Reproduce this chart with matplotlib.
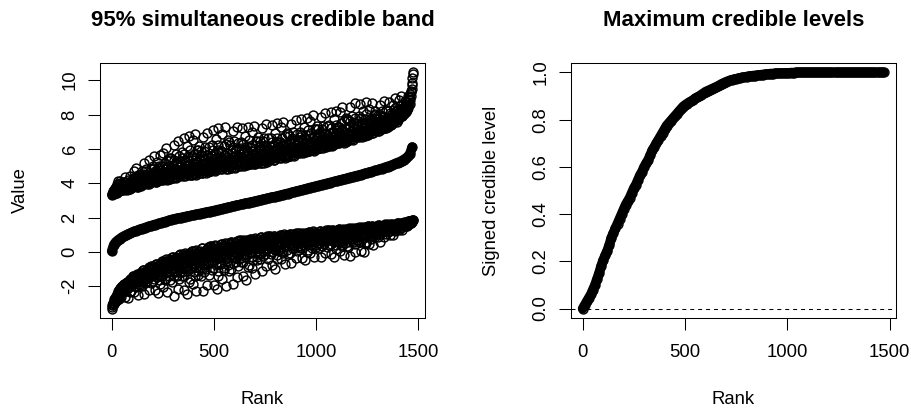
import matplotlib
matplotlib.use("Agg")
import matplotlib.pyplot as plt
import numpy as np

plt.rcParams["font.family"] = ["Liberation Sans", "DejaVu Sans"]

# rank of each unit: the band limits are read at two interleaved rank grids,
# the smooth curves every 10th rank
rank_a = np.arange(1, 1477, 3)
rank_b = np.arange(2, 1477, 3)
rank10 = np.arange(1, 1477, 10)

# upper limit of the 95% simultaneous band (ranks 1, 4, 7, ...)
upper_a = [
    3.32, 3.4, 3.55, 3.38, 3.62, 3.45, 3.8, 3.5, 3.95, 3.44, 4.1, 3.6, 3.52, 3.85, 4.15, 3.58,
    3.62, 3.85, 3.70, 4.09, 3.66, 4.36, 3.78, 3.93, 3.62, 3.74, 4.21, 3.82, 3.66, 4.01, 4.4, 3.70,
    3.95, 3.78, 4.28, 3.89, 4.73, 4.06, 3.84, 4.17, 4.9, 4.0, 3.78, 4.45, 3.89, 4.12, 4.56, 3.84,
    4.0, 4.7, 4.21, 3.93, 4.42, 5.19, 4.07, 4.28, 4.84, 3.93, 4.14, 4.56, 5.33, 4.07, 4.35, 4.21,
    4.06, 4.54, 4.22, 5.02, 4.14, 5.58, 4.38, 4.7, 4.06, 4.3, 5.26, 4.46, 4.14, 4.86, 5.66, 4.22,
    4.46, 4.18, 5.01, 4.37, 5.75, 4.64, 4.27, 4.83, 6.03, 4.55, 4.18, 5.29, 4.37, 4.74, 5.48, 4.27,
    4.41, 5.47, 4.73, 4.3, 5.05, 6.22, 4.51, 4.83, 5.68, 4.3, 4.62, 5.26, 6.43, 4.51, 4.94, 4.73,
    4.4, 5.1, 4.63, 5.8, 4.52, 6.61, 4.87, 5.33, 4.4, 4.75, 6.15, 4.98, 4.52, 5.57, 6.73, 4.63,
    4.85, 4.5, 5.56, 4.74, 6.51, 5.09, 4.62, 5.33, 6.86, 4.97, 4.5, 5.92, 4.74, 5.21, 6.15, 4.62,
    4.71, 5.88, 5.06, 4.59, 5.41, 6.71, 4.83, 5.18, 6.12, 4.59, 4.94, 5.65, 6.94, 4.83, 5.3, 5.06,
    4.69, 5.44, 4.94, 6.2, 4.82, 7.07, 5.19, 5.69, 4.69, 5.07, 6.57, 5.32, 4.82, 5.95, 7.2, 4.94,
    5.17, 4.8, 5.9, 5.05, 6.88, 5.41, 4.92, 5.66, 7.25, 5.29, 4.8, 6.27, 5.05, 5.54, 6.52, 4.92,
    5.02, 6.21, 5.38, 4.9, 5.73, 7.04, 5.14, 5.5, 6.45, 4.9, 5.26, 5.97, 7.28, 5.14, 5.61, 5.38,
    5.0, 5.69, 5.23, 6.38, 5.12, 7.19, 5.46, 5.92, 5.0, 5.35, 6.73, 5.58, 5.12, 6.15, 7.3, 5.23,
    5.43, 5.09, 6.11, 5.32, 7.01, 5.66, 5.2, 5.88, 7.35, 5.54, 5.09, 6.45, 5.32, 5.77, 6.67, 5.2,
    5.31, 6.43, 5.65, 5.2, 5.98, 7.22, 5.42, 5.76, 6.66, 5.2, 5.54, 6.21, 7.44, 5.42, 5.87, 5.65,
    5.34, 5.99, 5.56, 6.63, 5.45, 7.38, 5.77, 6.2, 5.34, 5.66, 6.95, 5.88, 5.45, 6.42, 7.49, 5.56,
    5.79, 5.47, 6.42, 5.68, 7.26, 6.0, 5.58, 6.21, 7.58, 5.89, 5.47, 6.74, 5.68, 6.1, 6.95, 5.58,
    5.71, 6.75, 6.02, 5.61, 6.33, 7.47, 5.82, 6.13, 6.96, 5.61, 5.92, 6.54, 7.68, 5.82, 6.23, 6.02,
    5.76, 6.38, 5.97, 6.99, 5.86, 7.71, 6.17, 6.58, 5.76, 6.07, 7.3, 6.27, 5.86, 6.79, 7.81, 5.97,
    6.21, 5.9, 6.82, 6.11, 7.64, 6.41, 6.0, 6.62, 7.95, 6.31, 5.9, 7.13, 6.11, 6.52, 7.34, 6.0,
    6.15, 7.16, 6.45, 6.05, 6.75, 7.86, 6.25, 6.55, 7.36, 6.05, 6.35, 6.95, 8.06, 6.25, 6.65, 6.45,
    6.19, 6.8, 6.39, 7.41, 6.29, 8.12, 6.6, 7.0, 6.19, 6.49, 7.71, 6.7, 6.29, 7.21, 8.22, 6.39,
    6.66, 6.35, 7.29, 6.56, 8.13, 6.87, 6.45, 7.08, 8.44, 6.77, 6.35, 7.6, 6.56, 6.98, 7.81, 6.45,
    6.62, 7.7, 6.94, 6.51, 7.27, 8.46, 6.73, 7.05, 7.92, 6.51, 6.84, 7.49, 8.68, 6.73, 7.16, 6.94,
    6.7, 7.31, 6.9, 7.92, 6.8, 8.63, 7.11, 7.51, 6.7, 7.0, 8.22, 7.21, 6.8, 7.72, 8.73, 6.9,
    7.06, 6.8, 7.62, 7.01, 8.35, 7.31, 6.96, 7.5, 8.68, 7.27, 6.92, 8.0, 7.13, 7.49, 8.22, 7.08,
    7.07, 7.9, 7.35, 7.04, 7.62, 8.55, 7.24, 7.51, 8.18, 7.13, 7.39, 7.9, 8.81, 7.35, 7.69, 7.55,
    7.24, 7.7, 7.43, 8.18, 7.39, 8.75, 7.66, 7.98, 7.41, 7.65, 8.55, 7.84, 7.56, 8.24, 8.98, 7.69,
    7.77, 7.59, 8.25, 7.8, 8.84, 8.06, 7.83, 8.24, 9.07, 8.11, 7.9, 8.63, 8.08, 8.33, 8.78, 8.12,
    8.12, 8.7, 8.25, 9.05, 8.4, 8.9, 8.6, 9.2, 9.05, 9.5, 9.85, 10.45,
]

# upper limit (ranks 2, 5, 8, ...)
upper_b = [
    3.36, 3.5, 3.42, 3.58, 3.47, 3.7, 3.52, 3.65, 3.48, 3.88, 3.55, 3.75, 3.6, 4.0, 3.62, 3.9,
    3.85, 3.70, 3.97, 3.62, 3.79, 3.68, 4.05, 3.74, 3.89, 3.66, 3.82, 3.71, 3.93, 3.64, 3.78, 4.13,
    3.84, 4.0, 3.78, 4.17, 3.89, 4.34, 3.95, 4.06, 3.8, 4.23, 3.87, 4.12, 3.91, 4.45, 3.98, 4.28,
    4.35, 4.07, 4.56, 3.93, 4.24, 4.04, 4.7, 4.14, 4.42, 4.0, 4.28, 4.1, 4.49, 3.96, 4.21, 4.84,
    4.14, 4.38, 4.06, 4.62, 4.22, 4.86, 4.3, 4.46, 4.09, 4.7, 4.19, 4.54, 4.25, 5.02, 4.35, 4.78,
    4.74, 4.37, 5.01, 4.18, 4.59, 4.33, 5.2, 4.46, 4.83, 4.27, 4.64, 4.4, 4.92, 4.22, 4.55, 5.38,
    4.41, 4.73, 4.3, 5.05, 4.51, 5.37, 4.62, 4.83, 4.34, 5.15, 4.47, 4.94, 4.56, 5.58, 4.68, 5.26,
    5.1, 4.63, 5.45, 4.4, 4.91, 4.59, 5.68, 4.75, 5.22, 4.52, 4.98, 4.68, 5.33, 4.45, 4.87, 5.91,
    4.62, 4.97, 4.5, 5.33, 4.74, 5.68, 4.85, 5.09, 4.55, 5.44, 4.69, 5.21, 4.78, 5.92, 4.92, 5.56,
    5.3, 4.83, 5.65, 4.59, 5.11, 4.78, 5.88, 4.94, 5.41, 4.71, 5.18, 4.87, 5.53, 4.64, 5.06, 6.12,
    4.82, 5.19, 4.69, 5.57, 4.94, 5.95, 5.07, 5.32, 4.74, 5.69, 4.89, 5.44, 4.99, 6.2, 5.14, 5.82,
    5.54, 5.05, 5.9, 4.8, 5.34, 5.0, 6.15, 5.17, 5.66, 4.92, 5.41, 5.09, 5.78, 4.85, 5.29, 6.39,
    5.02, 5.38, 4.9, 5.73, 5.14, 6.09, 5.26, 5.5, 4.95, 5.85, 5.09, 5.61, 5.19, 6.33, 5.33, 5.97,
    5.69, 5.23, 6.04, 5.0, 5.51, 5.18, 6.27, 5.35, 5.81, 5.12, 5.58, 5.28, 5.92, 5.05, 5.46, 6.5,
    5.2, 5.54, 5.09, 5.88, 5.32, 6.22, 5.43, 5.66, 5.14, 5.99, 5.27, 5.77, 5.36, 6.45, 5.5, 6.11,
    5.87, 5.42, 6.21, 5.2, 5.69, 5.38, 6.43, 5.54, 5.98, 5.31, 5.76, 5.47, 6.1, 5.24, 5.65, 6.66,
    5.45, 5.77, 5.34, 6.09, 5.56, 6.42, 5.66, 5.88, 5.38, 6.2, 5.51, 5.99, 5.6, 6.63, 5.73, 6.31,
    6.1, 5.68, 6.42, 5.47, 5.93, 5.64, 6.63, 5.79, 6.21, 5.58, 6.0, 5.72, 6.31, 5.51, 5.89, 6.84,
    5.71, 6.02, 5.61, 6.33, 5.82, 6.65, 5.92, 6.13, 5.65, 6.44, 5.78, 6.23, 5.86, 6.85, 5.98, 6.54,
    6.38, 5.97, 6.68, 5.76, 6.21, 5.92, 6.89, 6.07, 6.48, 5.86, 6.27, 6.01, 6.58, 5.8, 6.17, 7.09,
    6.0, 6.31, 5.9, 6.62, 6.11, 6.93, 6.21, 6.41, 5.94, 6.72, 6.06, 6.52, 6.15, 7.13, 6.27, 6.82,
    6.65, 6.25, 6.95, 6.05, 6.49, 6.21, 7.16, 6.35, 6.75, 6.15, 6.55, 6.29, 6.85, 6.09, 6.45, 7.36,
    6.29, 6.6, 6.19, 6.9, 6.39, 7.21, 6.49, 6.7, 6.23, 7.0, 6.35, 6.8, 6.43, 7.41, 6.56, 7.1,
    6.98, 6.56, 7.29, 6.35, 6.81, 6.52, 7.5, 6.66, 7.08, 6.45, 6.87, 6.6, 7.19, 6.39, 6.77, 7.71,
    6.62, 6.94, 6.51, 7.27, 6.73, 7.6, 6.84, 7.05, 6.55, 7.38, 6.68, 7.16, 6.77, 7.81, 6.9, 7.49,
    7.31, 6.9, 7.61, 6.7, 7.15, 6.86, 7.82, 7.0, 7.41, 6.8, 7.21, 6.94, 7.51, 6.74, 7.11, 8.02,
    6.88, 7.16, 6.82, 7.45, 7.02, 7.75, 7.14, 7.33, 6.94, 7.62, 7.06, 7.46, 7.16, 8.03, 7.29, 7.79,
    7.48, 7.16, 7.76, 7.04, 7.41, 7.2, 7.98, 7.35, 7.68, 7.21, 7.55, 7.36, 7.83, 7.22, 7.53, 8.29,
    7.31, 7.55, 7.28, 7.81, 7.47, 8.09, 7.59, 7.76, 7.44, 8.02, 7.57, 7.91, 7.67, 8.39, 7.79, 8.21,
    7.99, 7.73, 8.25, 7.66, 7.99, 7.84, 8.48, 7.99, 8.26, 7.93, 8.19, 8.08, 8.41, 8.02, 8.25, 8.72,
    8.3, 8.5, 8.45, 8.75, 8.6, 9.0, 8.85, 9.3, 9.35, 9.7, 10.1, 10.35,
]

# lower limit of the band (ranks 1, 4, 7, ...)
lower_a = [
    -3.3, -3.12, -2.95, -3.05, -2.75, -2.9, -2.6, -2.82, -2.45, -2.7, -2.3, -2.75, -2.2, -2.5, -2.1, -2.65,
    -1.97, -2.13, -1.99, -2.33, -1.89, -2.0, -2.61, -2.09, -1.73, -1.85, -2.13, -2.7, -1.72, -1.92, -2.36, -1.58,
    -1.58, -1.89, -1.43, -1.64, -2.33, -1.43, -1.71, -2.07, -1.5, -1.29, -2.5, -1.58, -1.36, -1.89, -1.46, -1.66,
    -1.2, -1.31, -1.98, -1.08, -1.48, -2.46, -1.16, -1.58, -1.28, -1.04, -1.71, -1.31, -2.23, -0.9, -1.12, -1.42,
    -0.84, -1.22, -0.97, -1.68, -0.85, -1.09, -2.23, -1.31, -0.7, -0.95, -1.45, -2.4, -0.82, -1.15, -1.86, -0.68,
    -0.76, -1.32, -0.54, -0.91, -2.06, -0.6, -1.08, -1.66, -0.76, -0.44, -2.35, -0.93, -0.61, -1.42, -0.79, -1.09,
    -0.45, -0.66, -1.76, -0.3, -0.97, -2.54, -0.5, -1.17, -0.7, -0.35, -1.38, -0.79, -2.19, -0.18, -0.53, -0.99,
    -0.15, -0.73, -0.37, -1.42, -0.23, -0.58, -2.24, -0.91, -0.06, -0.41, -1.14, -2.48, -0.27, -0.75, -1.74, -0.11,
    -0.21, -0.93, 0.05, -0.43, -1.89, -0.04, -0.65, -1.39, -0.26, 0.12, -2.25, -0.49, -0.1, -1.11, -0.34, -0.72,
    0.05, -0.19, -1.42, 0.2, -0.54, -2.29, -0.03, -0.78, -0.27, 0.12, -1.02, -0.37, -1.9, 0.29, -0.09, -0.61,
    0.32, -0.3, 0.09, -1.05, 0.22, -0.15, -1.93, -0.52, 0.38, 0.0, -0.77, -2.19, 0.16, -0.36, -1.4, 0.31,
    0.2, -0.56, 0.46, -0.04, -1.58, 0.36, -0.28, -1.05, 0.12, 0.51, -1.96, -0.13, 0.27, -0.78, 0.02, -0.37,
    0.44, 0.21, -1.0, 0.58, -0.14, -1.85, 0.36, -0.37, 0.13, 0.5, -0.61, 0.02, -1.48, 0.65, 0.28, -0.21,
    0.67, 0.11, 0.45, -0.58, 0.58, 0.24, -1.38, -0.1, 0.72, 0.37, -0.32, -1.61, 0.51, 0.04, -0.9, 0.64,
    0.55, -0.09, 0.77, 0.35, -0.94, 0.68, 0.14, -0.5, 0.47, 0.81, -1.26, 0.27, 0.6, -0.27, 0.39, 0.07,
    0.74, 0.55, -0.44, 0.86, 0.26, -1.13, 0.67, 0.08, 0.48, 0.79, -0.12, 0.39, -0.83, 0.91, 0.6, 0.2,
    0.91, 0.45, 0.73, -0.12, 0.84, 0.56, -0.78, 0.28, 0.95, 0.67, 0.09, -0.97, 0.78, 0.4, -0.39, 0.89,
    0.79, 0.27, 0.98, 0.63, -0.43, 0.91, 0.46, -0.07, 0.75, 1.02, -0.7, 0.58, 0.86, 0.13, 0.68, 0.41,
    0.95, 0.79, -0.05, 1.05, 0.54, -0.64, 0.89, 0.39, 0.73, 0.99, 0.22, 0.66, -0.38, 1.1, 0.84, 0.5,
    1.08, 0.7, 0.93, 0.23, 1.02, 0.79, -0.33, 0.56, 1.12, 0.89, 0.4, -0.49, 0.98, 0.66, 0.0, 1.08,
    0.99, 0.54, 1.15, 0.85, -0.07, 1.09, 0.71, 0.24, 0.95, 1.19, -0.3, 0.81, 1.04, 0.42, 0.89, 0.66,
    1.11, 0.97, 0.21, 1.21, 0.75, -0.32, 1.07, 0.61, 0.92, 1.16, 0.46, 0.86, -0.08, 1.26, 1.02, 0.71,
    1.25, 0.87, 1.1, 0.41, 1.19, 0.96, -0.14, 0.73, 1.3, 1.06, 0.59, -0.3, 1.16, 0.84, 0.19, 1.26,
    1.14, 0.67, 1.31, 1.0, 0.03, 1.25, 0.84, 0.36, 1.1, 1.35, -0.21, 0.95, 1.2, 0.54, 1.04, 0.8,
    1.27, 1.12, 0.31, 1.37, 0.88, -0.25, 1.23, 0.73, 1.07, 1.32, 0.58, 0.99, 0.0, 1.42, 1.18, 0.85,
    1.41, 1.02, 1.26, 0.57, 1.35, 1.13, 0.07, 0.92, 1.46, 1.24, 0.8, 0.01, 1.34, 1.06, 0.49, 1.43,
    1.33, 0.94, 1.48, 1.23, 0.46, 1.44, 1.13, 0.77, 1.34, 1.52, 0.41, 1.25, 1.43, 0.99, 1.33, 1.18,
    1.48, 1.39, 0.88, 1.55, 1.25, 0.58, 1.47, 1.19, 1.39, 1.53, 1.13, 1.37, 0.84, 1.61, 1.48, 1.32,
    1.59, 1.4, 1.52, 1.18, 1.57, 1.47, 0.96, 1.37, 1.64, 1.53, 1.34, 0.97, 1.59, 1.47, 1.22, 1.65,
    1.59, 1.44, 1.66, 1.56, 1.26, 1.66, 1.54, 1.4, 1.64, 1.71, 1.28, 1.62, 1.69, 1.53, 1.67, 1.61,
    1.76, 1.5, 1.72, 1.77, 1.58, 1.78, 1.7, 1.8, 1.66, 1.82, 1.78, 1.85,
]

# lower limit (ranks 2, 5, 8, ...)
lower_b = [
    -3.22, -3.0, -3.1, -2.88, -2.95, -2.7, -2.85, -2.55, -2.78, -2.4, -2.62, -2.25, -2.5, -2.15, -2.35, -2.05,
    -2.18, -2.01, -2.26, -1.87, -2.03, -1.88, -2.29, -1.89, -2.06, -1.74, -1.92, -1.76, -2.04, -1.59, -1.77, -2.28,
    -1.52, -1.69, -1.42, -1.84, -1.51, -1.99, -1.53, -1.63, -1.33, -1.78, -1.36, -1.62, -1.37, -1.95, -1.41, -1.72,
    -1.56, -1.25, -1.74, -1.07, -1.37, -1.15, -1.82, -1.21, -1.49, -1.03, -1.31, -1.1, -1.49, -0.92, -1.16, -1.81,
    -0.92, -1.15, -0.8, -1.38, -0.93, -1.6, -0.99, -1.14, -0.72, -1.36, -0.8, -1.15, -0.83, -1.63, -0.9, -1.35,
    -1.16, -0.75, -1.43, -0.52, -0.94, -0.65, -1.57, -0.76, -1.15, -0.53, -0.92, -0.65, -1.19, -0.42, -0.76, -1.64,
    -0.45, -0.78, -0.31, -1.1, -0.51, -1.42, -0.61, -0.83, -0.28, -1.14, -0.39, -0.89, -0.47, -1.55, -0.57, -1.19,
    -0.86, -0.37, -1.2, -0.11, -0.63, -0.28, -1.4, -0.42, -0.89, -0.16, -0.63, -0.31, -0.97, -0.05, -0.47, -1.55,
    -0.08, -0.45, 0.06, -0.8, -0.17, -1.16, -0.27, -0.51, 0.07, -0.87, -0.06, -0.6, -0.14, -1.32, -0.27, -0.93,
    -0.58, -0.06, -0.94, 0.21, -0.34, 0.02, -1.16, -0.14, -0.64, 0.13, -0.36, -0.02, -0.72, 0.25, -0.2, -1.33,
    0.19, -0.18, 0.34, -0.56, 0.09, -0.93, -0.02, -0.26, 0.33, -0.64, 0.19, -0.36, 0.11, -1.12, -0.03, -0.72,
    -0.33, 0.2, -0.71, 0.47, -0.09, 0.28, -0.93, 0.11, -0.4, 0.38, -0.13, 0.22, -0.51, 0.49, 0.03, -1.12,
    0.44, 0.08, 0.57, -0.28, 0.34, -0.63, 0.23, -0.01, 0.57, -0.36, 0.43, -0.1, 0.35, -0.83, 0.22, -0.44,
    -0.03, 0.45, -0.37, 0.69, 0.18, 0.51, -0.57, 0.36, -0.1, 0.6, 0.15, 0.46, -0.19, 0.7, 0.28, -0.75,
    0.65, 0.34, 0.77, 0.02, 0.56, -0.3, 0.46, 0.26, 0.76, -0.06, 0.64, 0.17, 0.56, -0.47, 0.44, -0.14,
    0.24, 0.65, -0.05, 0.86, 0.42, 0.71, -0.24, 0.58, 0.18, 0.79, 0.39, 0.66, 0.1, 0.87, 0.51, -0.39,
    0.81, 0.54, 0.92, 0.26, 0.74, -0.02, 0.65, 0.47, 0.91, 0.19, 0.81, 0.39, 0.74, -0.17, 0.63, 0.13,
    0.43, 0.8, 0.17, 0.99, 0.59, 0.86, 0.01, 0.74, 0.39, 0.93, 0.58, 0.82, 0.32, 1.01, 0.69, -0.11,
    0.94, 0.7, 1.04, 0.45, 0.88, 0.2, 0.8, 0.64, 1.04, 0.4, 0.94, 0.58, 0.88, 0.07, 0.79, 0.34,
    0.6, 0.93, 0.37, 1.1, 0.75, 0.98, 0.22, 0.88, 0.56, 1.05, 0.73, 0.95, 0.5, 1.12, 0.83, 0.11,
    1.06, 0.84, 1.15, 0.61, 1.0, 0.39, 0.94, 0.79, 1.15, 0.57, 1.07, 0.73, 1.01, 0.27, 0.93, 0.52,
    0.72, 1.04, 0.5, 1.21, 0.87, 1.1, 0.37, 1.0, 0.69, 1.16, 0.85, 1.06, 0.63, 1.23, 0.95, 0.26,
    1.17, 0.94, 1.26, 0.71, 1.11, 0.48, 1.05, 0.89, 1.27, 0.66, 1.18, 0.84, 1.13, 0.38, 1.04, 0.62,
    0.81, 1.15, 0.58, 1.32, 0.96, 1.2, 0.43, 1.1, 0.77, 1.27, 0.94, 1.16, 0.71, 1.34, 1.04, 0.32,
    1.27, 1.03, 1.36, 0.8, 1.21, 0.56, 1.14, 0.98, 1.37, 0.74, 1.28, 0.92, 1.22, 0.44, 1.13, 0.7,
    0.93, 1.26, 0.71, 1.43, 1.09, 1.32, 0.61, 1.22, 0.93, 1.39, 1.1, 1.3, 0.9, 1.46, 1.2, 0.58,
    1.4, 1.21, 1.48, 1.03, 1.36, 0.86, 1.32, 1.2, 1.5, 1.04, 1.44, 1.19, 1.4, 0.88, 1.35, 1.07,
    1.22, 1.44, 1.09, 1.55, 1.33, 1.48, 1.04, 1.43, 1.25, 1.53, 1.36, 1.49, 1.24, 1.59, 1.43, 1.06,
    1.55, 1.44, 1.6, 1.34, 1.53, 1.24, 1.52, 1.45, 1.63, 1.36, 1.59, 1.45, 1.58, 1.27, 1.55, 1.39,
    1.48, 1.6, 1.41, 1.67, 1.56, 1.65, 1.41, 1.63, 1.54, 1.69, 1.61, 1.68, 1.56, 1.73, 1.67, 1.49,
    1.62, 1.76, 1.7, 1.6, 1.78, 1.72, 1.8, 1.68, 1.81, 1.76, 1.83, 1.84,
]

# posterior mean, sorted
middle = [
    0.05, 0.42, 0.58, 0.68, 0.77, 0.85, 0.92, 0.98, 1.04, 1.09,
    1.14, 1.19, 1.23, 1.28, 1.32, 1.36, 1.4, 1.44, 1.48, 1.51,
    1.55, 1.59, 1.62, 1.66, 1.69, 1.73, 1.76, 1.8, 1.83, 1.87,
    1.9, 1.93, 1.95, 1.98, 2.0, 2.03, 2.05, 2.08, 2.1, 2.13,
    2.15, 2.18, 2.2, 2.23, 2.25, 2.28, 2.3, 2.33, 2.35, 2.38,
    2.4, 2.43, 2.46, 2.48, 2.51, 2.54, 2.57, 2.6, 2.62, 2.65,
    2.68, 2.71, 2.73, 2.76, 2.79, 2.82, 2.84, 2.87, 2.9, 2.92,
    2.95, 2.98, 3.0, 3.03, 3.06, 3.09, 3.11, 3.14, 3.17, 3.19,
    3.22, 3.25, 3.28, 3.31, 3.34, 3.37, 3.4, 3.43, 3.46, 3.49,
    3.52, 3.55, 3.58, 3.61, 3.64, 3.67, 3.71, 3.74, 3.77, 3.8,
    3.83, 3.86, 3.89, 3.92, 3.95, 3.98, 4.01, 4.04, 4.07, 4.1,
    4.13, 4.16, 4.19, 4.22, 4.25, 4.28, 4.32, 4.35, 4.38, 4.41,
    4.44, 4.47, 4.5, 4.54, 4.57, 4.6, 4.64, 4.67, 4.7, 4.74,
    4.77, 4.81, 4.85, 4.89, 4.93, 4.97, 5.01, 5.05, 5.1, 5.15,
    5.2, 5.25, 5.31, 5.38, 5.46, 5.56, 5.72, 6.1,
]

# maximum signed credible level
level = [
    0.0, 0.015, 0.03, 0.045, 0.06, 0.08, 0.1, 0.125, 0.15, 0.18,
    0.205, 0.225, 0.245, 0.27, 0.3, 0.32, 0.34, 0.36, 0.38, 0.4,
    0.42, 0.44, 0.455, 0.47, 0.49, 0.51, 0.525, 0.545, 0.565, 0.58,
    0.6, 0.615, 0.63, 0.65, 0.67, 0.685, 0.7, 0.715, 0.73, 0.745,
    0.76, 0.775, 0.785, 0.795, 0.805, 0.815, 0.825, 0.835, 0.845, 0.855,
    0.862, 0.868, 0.873, 0.878, 0.884, 0.89, 0.895, 0.9, 0.906, 0.912,
    0.918, 0.922, 0.926, 0.93, 0.934, 0.938, 0.942, 0.947, 0.952, 0.956,
    0.96, 0.963, 0.966, 0.969, 0.971, 0.973, 0.975, 0.977, 0.979, 0.98,
    0.982, 0.984, 0.985, 0.986, 0.987, 0.988, 0.989, 0.99, 0.991, 0.992,
    0.993, 0.994, 0.995, 0.995, 0.996, 0.996, 0.997, 0.997, 0.997, 0.998,
    0.998, 0.998, 0.999, 0.999,
    1.0, 1.0, 1.0, 1.0, 1.0, 1.0, 1.0, 1.0, 1.0, 1.0, 1.0,
    1.0, 1.0, 1.0, 1.0, 1.0, 1.0, 1.0, 1.0, 1.0, 1.0, 1.0,
    1.0, 1.0, 1.0, 1.0, 1.0, 1.0, 1.0, 1.0, 1.0, 1.0, 1.0,
    1.0, 1.0, 1.0, 1.0, 1.0, 1.0, 1.0, 1.0, 1.0, 1.0, 1.0,
]

x_ticks = [0, 500, 1000, 1500]
left_y_ticks = [-2, 0, 2, 4, 6, 8, 10]
right_y_ticks = [0.0, 0.2, 0.4, 0.6, 0.8, 1.0]

for vals in (upper_a, lower_a):
    assert len(vals) == len(rank_a)
for vals in (upper_b, lower_b):
    assert len(vals) == len(rank_b)
assert len(middle) == len(rank10) and len(level) == len(rank10)


def r_range(values):
    # R pads the data range by 4% on each side
    lo, hi = np.min(values), np.max(values)
    pad = 0.04 * (hi - lo)
    return lo - pad, hi + pad


def style_axes(ax):
    for side in ax.spines.values():
        side.set_linewidth(0.75)
    ax.tick_params(direction="out", length=8.4, width=0.75, labelsize=13.3,
                   top=False, right=False)
    ax.tick_params(axis="x", pad=10)
    ax.tick_params(axis="y", pad=7, labelrotation=90)
    for lab in ax.get_yticklabels():
        lab.set_va("center")
    ax.xaxis.set_label_coords(0.5, -0.285)
    ax.yaxis.set_label_coords(-0.218, 0.5)


# R's png device draws these open circles crisp, without smoothing
circle = dict(ls="none", marker="o", mfc="none", mec="black", ms=6.4, mew=1.05,
              antialiased=False)
# the smooth curves are so densely overplotted that they read as a solid band
band = dict(color="black", lw=7.1, solid_capstyle="round", solid_joinstyle="round")

fig = plt.figure(figsize=(9.12, 4.12), dpi=100)
ax1 = fig.add_axes([100 / 912, 94 / 412, 325 / 912, 255 / 412])
ax2 = fig.add_axes([570.7 / 912, 94 / 412, 325 / 912, 255 / 412])

# left panel
ax1.plot(rank10, middle, **band)
ax1.plot(rank10, middle, **circle)
ax1.plot(rank_a, upper_a, **circle)
ax1.plot(rank_b, upper_b, **circle)
ax1.plot(rank_a, lower_a, **circle)
ax1.plot(rank_b, lower_b, **circle)
ax1.set_xlim(r_range(rank_b))
ax1.set_ylim(r_range(np.concatenate([upper_a, lower_a])))
ax1.set_xticks(x_ticks)
ax1.set_yticks(left_y_ticks)
ax1.set_yticklabels([str(v) for v in left_y_ticks])
ax1.set_title("95% simultaneous credible band", fontsize=16, fontweight="bold", pad=26.6)
ax1.set_xlabel("Rank", fontsize=13.3)
ax1.set_ylabel("Value", fontsize=13.3)
style_axes(ax1)

# right panel
ax2.plot(rank10, level, **band)
ax2.plot(rank10, level, **circle)
ax2.axhline(0, color="black", lw=0.75, ls=(0, (3.8, 3.8)))
ax2.set_xlim(r_range(rank10))
ax2.set_ylim(r_range(level))
ax2.set_xticks(x_ticks)
ax2.set_yticks(right_y_ticks)
ax2.set_yticklabels(["%.1f" % v for v in right_y_ticks])
ax2.set_title("Maximum credible levels", fontsize=16, fontweight="bold", pad=26.6)
ax2.set_xlabel("Rank", fontsize=13.3)
ax2.set_ylabel("Signed credible level", fontsize=13.3)
style_axes(ax2)

fig.savefig("out.png", dpi=100)
